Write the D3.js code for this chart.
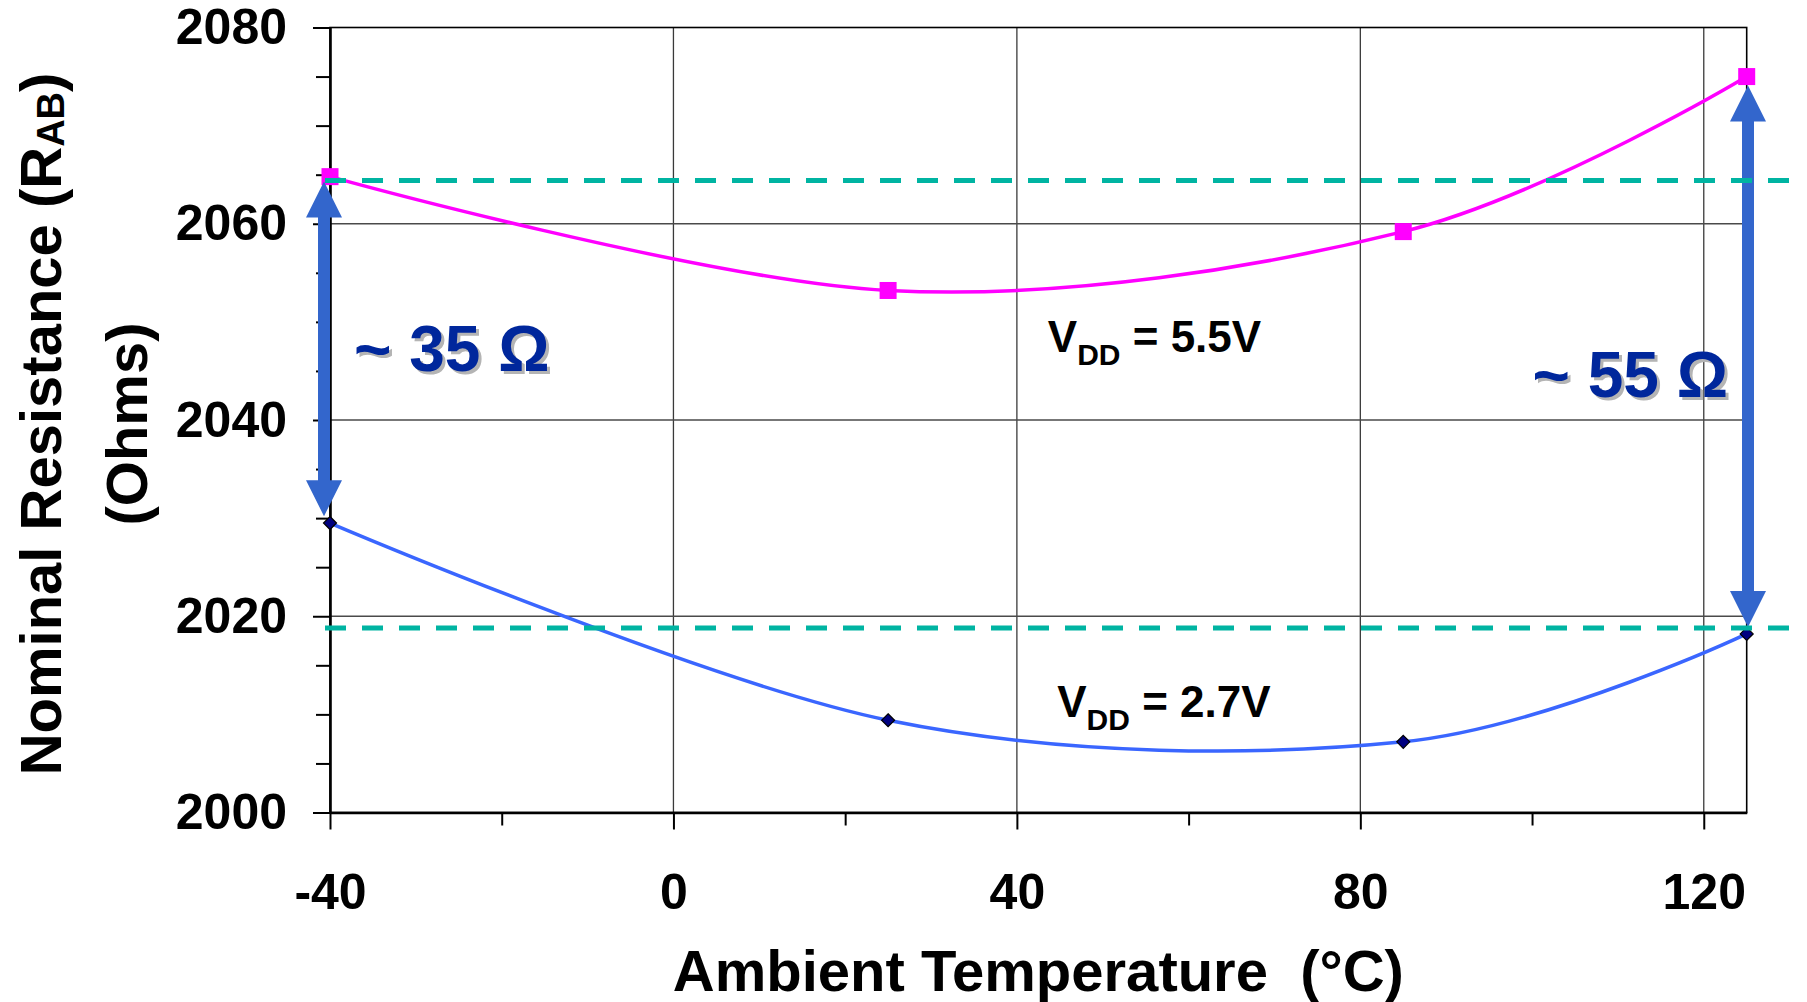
<!DOCTYPE html>
<html>
<head>
<meta charset="utf-8">
<script src="https://cdn.jsdelivr.net/npm/d3@7"></script>
<style>
  body { margin: 0; background: #fff; }
  text { font-family: "Liberation Sans", Arial, sans-serif; font-weight: bold; }
</style>
</head>
<body>
<div id="chart"></div>
<script>
// values
var temps = [-40, 25, 85, 125];
var r55 = [2064.8, 2053.2, 2059.2, 2075.0];
var r27 = [2029.5, 2009.4, 2007.2, 2018.2];
var refLevels = [2064.4, 2018.8];
var xMajor = [-40, 0, 40, 80, 120];
var xMinor = [-20, 20, 60, 100];
var yMajor = [2000, 2020, 2040, 2060, 2080];
var yMinor = [2005, 2010, 2015, 2025, 2030, 2035, 2045, 2050, 2055, 2065, 2070, 2075];
var spreadTemps = [-40, 125];
var spreadTop = [2064.3, 2074.1];
var spreadBottom = [2030.2, 2018.9];
var spreadLabels = ["~ 35 \u03A9", "~ 55 \u03A9"];
var vddLabels = ["5.5V", "2.7V"];

// set the dimensions and margins of the graph
var margin = {top: 27.5, right: 60.3, bottom: 189.5, left: 330},
    width = 1807 - margin.left - margin.right,
    height = 1002 - margin.top - margin.bottom;

var svg = d3.select("#chart")
  .append("svg")
    .attr("width", 1807)
    .attr("height", 1002);

var g = svg.append("g")
    .attr("transform", "translate(" + margin.left + "," + margin.top + ")");

var x = d3.scaleLinear().domain([-40, 125]).range([0, width]);
var y = d3.scaleLinear().domain([2000, 2080]).range([height, 0]);

// gridlines
g.selectAll(".vgrid")
  .data(xMajor.filter(function(d) { return d > -40; }))
  .enter().append("line")
    .attr("x1", function(d) { return x(d); })
    .attr("x2", function(d) { return x(d); })
    .attr("y1", 0).attr("y2", height)
    .attr("stroke", "#3a3a3a").attr("stroke-width", 1.3);

g.selectAll(".hgrid")
  .data(yMajor.filter(function(d) { return d > 2000 && d < 2080; }))
  .enter().append("line")
    .attr("x1", 0).attr("x2", width)
    .attr("y1", function(d) { return y(d); })
    .attr("y2", function(d) { return y(d); })
    .attr("stroke", "#4a4a4a").attr("stroke-width", 1.3);

// plot border
g.append("rect")
  .attr("x", 0).attr("y", 0).attr("width", width).attr("height", height)
  .attr("fill", "none").attr("stroke", "#000").attr("stroke-width", 1.6);

// axes
function styleAxis(sel) {
  sel.select(".domain").attr("stroke", "#000").attr("stroke-width", 2.6);
  sel.selectAll(".tick line").attr("stroke", "#000").attr("stroke-width", 2);
  sel.selectAll(".tick text").style("font-size", "50px").attr("fill", "#000");
}
var plain = function(d) { return String(d); };

g.append("g")
  .call(d3.axisLeft(y).tickValues(yMinor).tickSize(14).tickFormat(""))
  .call(function(s) { s.select(".domain").remove(); })
  .call(styleAxis);

g.append("g")
  .call(d3.axisLeft(y).tickValues(yMajor).tickSize(17).tickSizeOuter(0).tickPadding(26).tickFormat(plain))
  .call(styleAxis);

g.append("g")
  .attr("transform", "translate(0," + height + ")")
  .call(d3.axisBottom(x).tickValues(xMinor).tickSize(13).tickFormat(""))
  .call(function(s) { s.select(".domain").remove(); })
  .call(styleAxis);

g.append("g")
  .attr("transform", "translate(0," + height + ")")
  .call(d3.axisBottom(x).tickValues(xMajor).tickSize(17).tickSizeOuter(0).tickPadding(44).tickFormat(plain))
  .call(styleAxis);

// series lines
var line = d3.line()
  .x(function(d) { return x(d[0]); })
  .y(function(d) { return y(d[1]); })
  .curve(d3.curveCatmullRom.alpha(0));

var data55 = temps.map(function(t, i) { return [t, r55[i]]; });
var data27 = temps.map(function(t, i) { return [t, r27[i]]; });

g.append("path").datum(data55)
  .attr("d", line).attr("fill", "none")
  .attr("stroke", "#ff00ff").attr("stroke-width", 3.5);

g.append("path").datum(data27)
  .attr("d", line).attr("fill", "none")
  .attr("stroke", "#3a66ff").attr("stroke-width", 3.5);

// markers
g.selectAll(".sq").data(data55).enter().append("rect")
  .attr("x", function(d) { return x(d[0]) - 8.5; })
  .attr("y", function(d) { return y(d[1]) - 8.5; })
  .attr("width", 17).attr("height", 17)
  .attr("fill", "#ff00ff");

g.selectAll(".dm").data(data27).enter().append("path")
  .attr("d", function(d) {
    var cx = x(d[0]), cy = y(d[1]), r = 6.5;
    return "M" + cx + "," + (cy - r) + "L" + (cx + r) + "," + cy +
           "L" + cx + "," + (cy + r) + "L" + (cx - r) + "," + cy + "Z";
  })
  .attr("fill", "#000080").attr("stroke", "#000").attr("stroke-width", 1.2);

// double-headed arrows
function arrowPath(cx, y0, y1) {
  var s = 6, h = 18, L = 36;
  return "M" + cx + "," + y0 +
    "L" + (cx + h) + "," + (y0 + L) + "L" + (cx + s) + "," + (y0 + L) +
    "L" + (cx + s) + "," + (y1 - L) + "L" + (cx + h) + "," + (y1 - L) +
    "L" + cx + "," + y1 +
    "L" + (cx - h) + "," + (y1 - L) + "L" + (cx - s) + "," + (y1 - L) +
    "L" + (cx - s) + "," + (y0 + L) + "L" + (cx - h) + "," + (y0 + L) + "Z";
}
var arrowX = [x(spreadTemps[0]) - 6, x(spreadTemps[1]) + 1.3];

g.selectAll(".arrow").data(spreadTemps).enter().append("path")
  .attr("d", function(d, i) { return arrowPath(arrowX[i], y(spreadTop[i]), y(spreadBottom[i])); })
  .attr("fill", "#3366cc");

// dashed reference levels
g.selectAll(".ref").data(refLevels).enter().append("line")
  .attr("x1", x(-40) - 5).attr("x2", width + 50)
  .attr("y1", function(d) { return y(d); })
  .attr("y2", function(d) { return y(d); })
  .attr("stroke", "#00b4a2").attr("stroke-width", 5)
  .attr("stroke-dasharray", "21,16");

// spread labels with shadow
var spreadPos = [
  {x: arrowX[0] + 30, y: y(2045.0), anchor: "start"},
  {x: arrowX[1] - 20, y: y(2042.3), anchor: "end"}
];
spreadLabels.forEach(function(lbl, i) {
  var p = spreadPos[i];
  g.append("text").attr("x", p.x + 3).attr("y", p.y + 3)
    .attr("text-anchor", p.anchor).style("font-size", "64px")
    .attr("fill", "#b4b4b4").text(lbl);
  g.append("text").attr("x", p.x).attr("y", p.y)
    .attr("text-anchor", p.anchor).style("font-size", "64px")
    .attr("fill", "#00279c").text(lbl);
});

// VDD labels
var vddPos = [[43.6, 2046.9], [44.7, 2009.7]];
vddLabels.forEach(function(lbl, i) {
  var t = g.append("text")
    .attr("x", x(vddPos[i][0])).attr("y", y(vddPos[i][1]))
    .style("font-size", "44px").attr("fill", "#000")
    .style("white-space", "pre");
  t.append("tspan").text("V");
  t.append("tspan").attr("dy", 13).style("font-size", "30px").text("DD");
  t.append("tspan").attr("dy", -13).text(" = " + lbl);
});

// axis titles
svg.append("text")
  .attr("x", margin.left + width / 2).attr("y", 991)
  .attr("text-anchor", "middle").style("font-size", "58px")
  .style("white-space", "pre")
  .text("Ambient Temperature  (\u00B0C)");

var yt = svg.append("text")
  .attr("transform", "translate(61," + (margin.top + height / 2 + 4) + ") rotate(-90)")
  .attr("text-anchor", "middle").style("font-size", "58px");
yt.append("tspan").text("Nominal Resistance (R");
yt.append("tspan").attr("dy", 3).style("font-size", "38px").text("AB");
yt.append("tspan").attr("dy", -3).text(")");

svg.append("text")
  .attr("transform", "translate(147," + (margin.top + height / 2 + 4) + ") rotate(-90)")
  .attr("text-anchor", "middle").style("font-size", "58px")
  .text("(Ohms)");
</script>
</body>
</html>
